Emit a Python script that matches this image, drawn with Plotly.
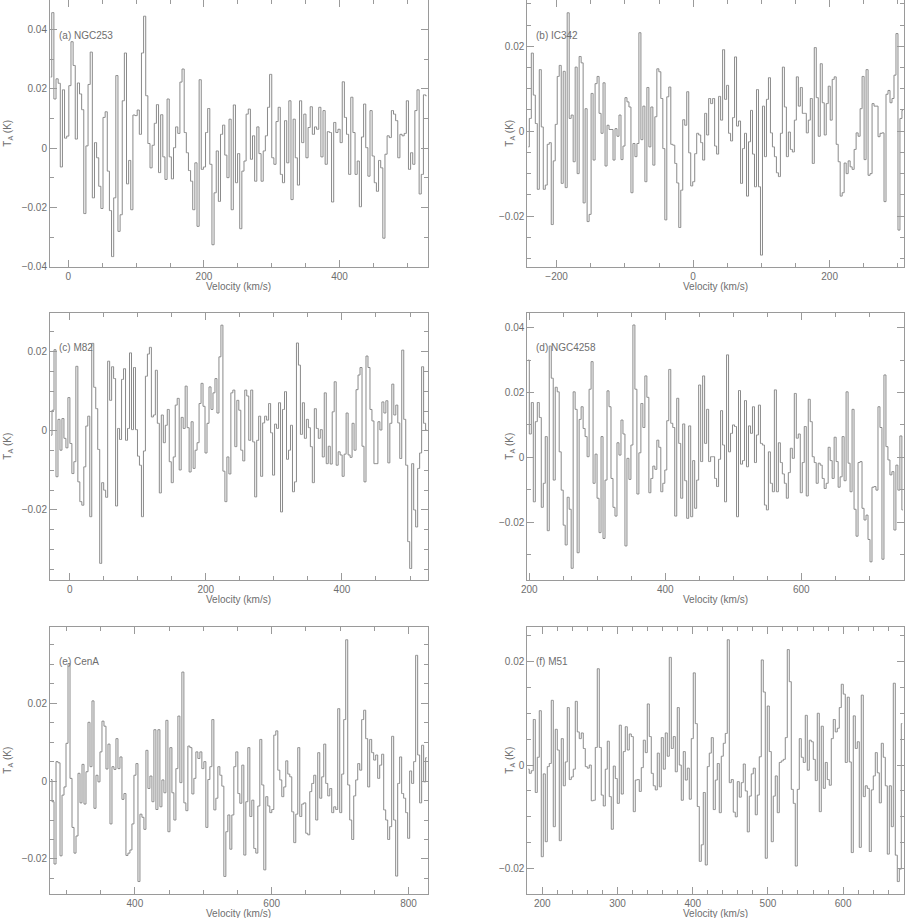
import numpy as np
import plotly.graph_objects as go

# Antenna temperature T_A (K) per channel
ngc253 = [
    0.024, 0.0457, 0.0166, 0.0234, 0.0219, -0.0063, 0.0197, 0.0034, 0.0041, 0.0211,
    0.0359, 0.0279, 0.0031, 0.022, 0.0183, 0.013, -0.022, 0.0008, 0.0215, 0.0324,
    -0.0167, 0.0019, -0.0032, -0.0128, -0.0203, 0.0104, 0.0123, -0.0077, -0.021, -0.0365,
    -0.0167, 0.0245, -0.028, -0.0224, 0.016, 0.0321, -0.012, -0.0041, -0.0207, 0.0112,
    0.011, 0.0129, 0.0047, 0.0321, 0.0445, 0.0177, 0.0016, -0.0066, 0.001, 0.0084,
    0.0147, -0.0082, 0.0113, -0.0029, -0.0105, 0.0166, -0.0029, -0.0103, 0.0002, 0.0072,
    0.005, 0.0223, 0.0267, 0.0053, -0.0015, -0.0075, -0.0111, -0.0207, -0.0049, -0.0263,
    0.0231, -0.0071, -0.0063, 0.0053, 0.0134, -0.0054, -0.0325, -0.015, -0.0009, -0.0179,
    0.0047, 0.0078, -0.0023, -0.0099, 0.0098, -0.0207, 0.0146, -0.0116, -0.0018, -0.0271,
    -0.0077, -0.0043, 0.0115, 0.0132, -0.0037, 0.0042, -0.0111, 0.0072, -0.0018, -0.0111,
    -0.0009, 0.0042, 0.0138, 0.0249, -0.0032, -0.0054, 0.009, 0.0138, -0.0088, -0.0116,
    0.0093, -0.0049, 0.016, -0.0173, 0.0098, -0.0032, -0.0124, 0.016, 0.0019, 0.0115,
    -0.0032, 0.007, 0.014, 0.0047, 0.0072, 0.0064, 0.0138, -0.0029, 0.0127, -0.0054,
    0.0056, 0.0053, -0.0181, 0.0087, 0.0053, 0.0064, 0.0019, 0.0224, 0.0104, 0.0047,
    -0.0088, 0.0172, 0.0053, -0.0088, -0.0043, -0.0197, 0.0038, 0.0149, 0.0002, -0.0094,
    0.0127, -0.0026, -0.0116, -0.0145, -0.0041, -0.0066, -0.0303, -0.002, 0.0042, 0.0036,
    0.0127, 0.0115, 0.0093, -0.0032, 0.0047, 0.0042, 0.005, 0.016, -0.0071, -0.0015,
    -0.0054, 0.0127, 0.0197, -0.0154, -0.0088, 0.018, 0.0177,
]
ic342 = [
    -0.0037, 0.003, 0.0184, 0.0085, 0.0018, -0.0137, 0.0145, 0.001, -0.0137, -0.0127,
    -0.0031, -0.0027, -0.022, -0.007, 0.0016, 0.0129, 0.0155, -0.0123, 0.0141, -0.0133,
    0.0279, 0.003, 0.0038, -0.0072, 0.0151, -0.01, 0.0176, 0.0161, -0.0169, 0.0053,
    -0.0213, -0.0196, 0.0089, -0.0068, 0.0112, 0.0129, 0.0042, -0.0005, 0.0114, -0.0082,
    0.0014, 0.0004, 0.0004, -0.0068, 0.0006, -0.0012, 0.0038, -0.0067, -0.0035, 0.0079,
    0.0069, 0.0057, -0.0145, -0.0029, -0.006, -0.0029, 0.0232, -0.002, 0.0059, -0.0119,
    0.0103, -0.0037, 0.0057, -0.008, 0.0034, 0.0147, 0.014, 0.0077, -0.0041, -0.0209,
    0.0081, 0.0104, -0.0031, -0.0033, -0.0076, -0.0122, -0.0227, -0.0139, 0.0027, 0.0014,
    0.0093, -0.0051, -0.0129, -0.0119, -0.0053, -0.0005, -0.0009, -0.0027, -0.0068, 0.0042,
    -0.0009, 0.0077, 0.0065, 0.0077, -0.0035, -0.0054, 0.0082, 0.0026, 0.0192, 0.0075,
    0.0108, -0.0005, -0.0023, 0.0032, 0.0175, 0.0012, 0.0024, -0.0123, -0.0041, -0.0005,
    -0.0153, -0.0025, 0.0049, -0.0054, -0.0131, 0.0098, -0.0131, -0.0292, 0.0059, -0.006,
    0.0075, 0.0126, -0.0004, -0.0037, -0.006, -0.0098, -0.0107, -0.0005, 0.0151, 0.0057,
    -0.006, -0.0002, -0.0043, -0.0049, 0.0026, 0.0128, 0.0059, 0.0103, 0.0042, 0.0042,
    -0.0004, 0.0026, 0.0077, -0.0076, 0.0197, 0.0079, -0.0012, 0.0159, 0.0067, -0.0009,
    0.0065, 0.0106, 0.0026, 0.0122, 0.0128, -0.0031, -0.0072, -0.0153, -0.0145, -0.0075,
    -0.01, -0.007, -0.0084, -0.009, -0.0043, -0.0004, -0.0012, 0.0053, 0.0129, -0.0067,
    0.0145, -0.0104, -0.01, 0.0065, 0.0059, 0.0059, -0.0013, -0.0005, -0.0004, -0.0166,
    0.0087, 0.0096, 0.0067, 0.0077, 0.0132, 0.023, -0.0233, 0.003, 0.0049,
]
m82 = [
    -0.0011, 0.0052, 0.0205, -0.0116, 0.0029, -0.0049, 0.0031, -0.0019, -0.0043, 0.0084,
    -0.0032, -0.0108, -0.0078, 0.0163, -0.0129, -0.0179, -0.0188, -0.0091, 0.0012, 0.0037,
    -0.0217, 0.0221, 0.011, 0.0056, -0.0047, -0.0335, -0.0131, -0.015, -0.0168, 0.0176,
    0.0077, 0.0162, 0.0132, -0.019, 0.0006, -0.0022, 0.013, 0.0157, -0.0024, 0.0006,
    0.0197, 0.0003, 0.016, 0.0003, -0.0064, -0.0087, -0.0217, -0.0051, 0.0138, 0.0194,
    0.0211, 0.0035, 0.004, 0.0153, 0.0019, -0.0157, 0.004, -0.003, 0.0014, 0.0054,
    -0.0078, -0.0131, -0.0066, 0.0065, 0.0082, -0.0099, 0.0034, 0.0006, 0.0113, 0.0008,
    -0.0104, 0.0023, -0.0095, -0.0049, -0.003, 0.0069, 0.012, 0.0062, -0.0056, 0.0019,
    0.0111, 0.0054, 0.0096, 0.0132, 0.0045, 0.0187, 0.0267, -0.0102, -0.0179, -0.0066,
    -0.0109, 0.0096, 0.0103, -0.004, 0.0077, 0.0052, -0.0049, -0.0076, 0.0103, 0.0088,
    -0.0024, 0.0103, -0.0028, -0.0167, -0.0024, 0.0037, -0.0115, 0.002, 0.0037, 0.0027,
    0.0069, -0.0005, -0.0112, 0.0017, 0.0006, 0.0071, -0.0205, 0.0054, 0.0099, -0.0072,
    -0.0049, 0.0014, -0.0154, -0.0129, 0.0222, 0.0166, -0.0009, 0.0071, -0.0019, 0.0029,
    0.0008, -0.004, -0.0131, 0.0056, 0.0006, -0.0019, 0.0003, -0.0066, 0.0096, -0.0083,
    -0.0039, -0.0084, 0.0048, 0.0124, -0.0087, -0.0053, -0.0061, -0.0115, -0.0059, 0.0045,
    -0.0061, -0.0067, 0.0019, -0.0049, 0.0104, 0.0141, 0.016, -0.0039, -0.0129, 0.0189,
    0.016, 0.0054, 0.0025, -0.0083, -0.0083, 0.0023, 0.0002, 0.0073, 0.0045, 0.0076,
    -0.0081, 0.0019, 0.0118, 0.004, 0.0065, 0.002, -0.007, 0.0204, 0.0029, -0.0087,
    -0.028, -0.0348, -0.0083, -0.02, -0.0243, -0.0095, -0.0056, 0.0162, 0.0019, 0.0002,
]
ngc4258 = [
    0.03, 0.0072, 0.0169, -0.0137, 0.011, 0.0169, 0.0123, -0.0154, -0.008, 0.0064,
    -0.0226, 0.0343, 0.0244, -0.007, 0.0216, 0.0202, 0.0017, -0.0101, -0.0209, -0.027,
    -0.0123, -0.016, -0.0342, 0.0202, 0.0148, -0.0294, 0.0117, 0.0156, 0.0089, 0.0064,
    0.0002, 0.021, 0.0295, -0.008, 0.001, -0.0126, -0.0232, 0.0064, -0.025, -0.007,
    0.0205, 0.0156, -0.0065, -0.0154, -0.0181, 0.0045, 0.0007, 0.0115, 0.0072, -0.0273,
    -0.0003, -0.0068, 0.0038, 0.0408, 0.021, -0.0113, 0.0014, 0.0166, 0.0092, 0.0251,
    0.0185, -0.0109, -0.0065, -0.0027, -0.0037, 0.0053, 0.0031, -0.0106, -0.008, -0.0039,
    0.0113, 0.0271, 0.0105, 0.0092, -0.0181, 0.0182, 0.0043, -0.0126, 0.0103, -0.0072,
    -0.0188, 0.0097, -0.0183, -0.001, -0.0157, -0.007, 0.0223, -0.0013, 0.0251, 0.0043,
    0.0148, -0.0013, 0.0002, 0.0002, -0.0065, -0.009, -0.0006, 0.0144, 0.0038, -0.0137,
    0.0316, 0.0017, 0.0074, 0.01, 0.0095, -0.0183, 0.0206, -0.0021, -0.001, 0.0175,
    -0.0029, 0.0097, 0.0074, 0.0156, -0.0016, 0.0069, 0.0161, 0.0043, 0.0038, -0.0147,
    -0.0162, 0.0017, -0.008, -0.0106, 0.0208, -0.0106, 0.0045, -0.0016, -0.0051, -0.008,
    -0.0126, -0.0047, 0.0028, -0.0003, 0.0197, 0.0059, 0.0072, -0.0109, -0.0016, 0.0095,
    -0.0119, 0.0179, 0.011, 0.0002, -0.0016, -0.008, -0.0018, -0.0024, -0.0065, -0.0096,
    -0.008, 0.0031, -0.001, -0.0065, 0.0062, -0.0013, -0.0092, -0.006, 0.0064, -0.0072,
    0.0202, -0.0018, -0.0106, 0.0148, -0.016, -0.0243, -0.0016, -0.0013, -0.0157, -0.0193,
    -0.0178, -0.0253, -0.0322, -0.0092, -0.009, -0.0101, 0.0156, 0.0092, -0.0314, 0.0254,
    0.0033, -0.0008, -0.0054, -0.0044, -0.0224, -0.0024, -0.0101, 0.0066, -0.0162,
]
cena = [
    0.0004, -0.0053, -0.0213, 0.005, 0.0047, -0.0192, -0.0036, -0.0015, 0.0097, 0.0302,
    0.0007, -0.0119, -0.0185, -0.0141, 0.002, -0.0056, 0.0043, -0.0059, 0.0024, 0.0151,
    0.0037, 0.0206, -0.007, 0.0015, -0.0002, 0.0075, 0.0154, 0.0141, 0.0031, 0.0095,
    -0.011, 0.0037, 0.003, 0.0109, 0.0032, 0.0062, -0.0047, -0.0032, -0.0191, -0.0185,
    -0.0177, -0.011, 0.0015, 0.0045, -0.0258, -0.0085, -0.0093, -0.0124, 0.0079, -0.0019,
    0.0013, -0.0053, 0.0132, -0.0073, 0.0132, -0.0066, 0.0003, -0.003, 0.0156, -0.013,
    0.0086, -0.003, -0.01, 0.0032, 0.0167, -0.0004, 0.028, -0.0056, -0.0076, 0.009,
    0.0086, -0.0033, 0.0007, 0.0075, 0.0058, 0.0075, 0.0032, 0.005, -0.0119, 0.0004,
    0.0037, 0.0158, -0.0074, -0.0044, 0.0037, 0.0015, -0.0013, -0.0245, -0.013, -0.0087,
    -0.0175, -0.0087, 0.0037, 0.0075, -0.0032, -0.0057, 0.0041, -0.019, -0.0053, 0.0086,
    -0.0091, -0.0049, -0.0173, -0.0185, -0.0064, 0.0107, -0.001, -0.0228, -0.004, -0.0064,
    -0.0081, -0.0073, 0.0118, 0.0129, 0.0028, 0.0003, -0.004, -0.0015, 0.0052, 0.0018,
    0.0011, -0.0079, -0.0158, -0.0085, 0.0086, -0.0091, -0.0059, -0.0056, -0.0134, -0.0138,
    -0.0027, -0.0006, 0.0015, -0.01, 0.0073, -0.0044, 0.0011, 0.0095, -0.0006, -0.0038,
    -0.0019, -0.0081, -0.0066, -0.0073, 0.0186, -0.0081, 0.0018, 0.0158, 0.0363, -0.001,
    -0.01, -0.015, -0.0038, 0.0003, 0.0045, 0.0028, 0.0158, 0.0182, 0.0109, -0.0015,
    0.0107, 0.0073, 0.0054, 0.0067, 0.0007, 0.0041, 0.0069, -0.0074, -0.01, -0.015,
    -0.0117, 0.0115, -0.01, -0.0244, -0.0006, 0.0062, -0.0032, -0.0044, -0.0081, -0.0147,
    0.0026, -0.0006, 0.005, 0.0323, 0.0067, -0.0056, 0.0092, -0.0002, 0.006,
]
m51 = [
    -0.0008, -0.0016, -0.0011, 0.0088, -0.0053, 0.0015, 0.0105, -0.0177, -0.0017, -0.0148,
    -0.0003, 0.0003, 0.0125, -0.0119, 0.0069, 0.0029, -0.0146, 0.0051, -0.004, 0.0006,
    0.0111, -0.0028, -0.0023, -0.0008, 0.0123, 0.0064, 0.0051, 0.0062, 0.0032, -0.0003,
    -0.0006, 0.0, -0.0069, -0.0068, 0.0034, 0.0186, 0.0034, -0.0058, -0.0079, -0.0008,
    0.0046, -0.0061, -0.0124, -0.0002, -0.0026, -0.0074, 0.0077, -0.0056, 0.0026, 0.0074,
    0.0029, 0.006, 0.0055, -0.009, -0.0029, -0.0028, -0.0051, -0.0005, 0.0048, 0.0024,
    0.0118, 0.0055, -0.0016, -0.004, -0.0048, 0.0023, -0.0042, 0.0053, -0.0008, 0.0062,
    0.0017, 0.0208, 0.0032, 0.0055, -0.0013, 0.0111, 0.0, -0.0068, 0.0026, -0.0029,
    -0.0006, -0.0066, 0.0051, 0.0178, 0.008, -0.008, -0.0186, -0.0154, -0.0053, -0.0193,
    -0.0003, 0.0023, 0.0053, -0.0086, -0.0029, 0.0003, -0.0092, 0.0017, 0.0042, 0.0061,
    0.0242, -0.0034, -0.0028, -0.0091, -0.01, -0.0032, -0.0062, -0.0034, 0.0002, -0.005,
    -0.0129, -0.006, -0.0017, -0.0006, -0.0096, -0.0058, 0.0016, 0.0203, 0.0141, -0.018,
    0.0114, 0.0026, -0.0148, -0.006, -0.0021, -0.0092, 0.0005, 0.0008, 0.0011, 0.0053,
    0.0223, 0.0161, -0.0047, -0.0074, -0.0195, -0.0047, 0.0051, 0.0015, 0.0005, 0.0096,
    -0.001, 0.0048, 0.0045, 0.0011, -0.003, 0.01, -0.009, 0.0075, -0.0045, 0.0005,
    -0.0028, -0.0039, 0.0051, 0.0088, 0.0064, 0.0071, 0.0111, 0.0156, 0.0137, 0.0005,
    0.0131, 0.0006, -0.0169, 0.0095, 0.0032, 0.0045, -0.0159, 0.0135, -0.0061, -0.004,
    -0.0045, -0.0167, -0.0048, -0.0021, 0.0024, -0.0015, -0.0073, 0.0042, 0.0015, -0.004,
    -0.0172, -0.004, -0.0119, 0.0158, -0.0174, -0.0225, -0.0201, 0.008,
]

labels = ["(a) NGC253", "(b) IC342", "(c) M82", "(d) NGC4258", "(e) CenA", "(f) M51"]
spectra = [ngc253, ic342, m82, ngc4258, cena, m51]
# first channel velocity and channel width (km/s)
v_first = [-26.0, -241.5, -27.5, 198.5, 277.5, 181.3]
v_width = [3.15, 2.92, 2.92, 2.93, 2.92, 2.66]
x_ranges = [[-27, 530], [-243, 309], [-29, 526], [197, 751], [276, 828], [180, 681]]
y_ranges = [[-0.04, 0.0498], [-0.032, 0.0308], [-0.0377, 0.0297],
            [-0.0378, 0.0444], [-0.029, 0.0395], [-0.0249, 0.0266]]
x_major = [200, 200, 200, 200, 200, 100]
x_minor = [50, 50, 50, 50, 50, 20]
y_major = [0.02, 0.02, 0.02, 0.02, 0.02, 0.02]
y_minor = [0.01, 0.005, 0.005, 0.01, 0.005, 0.005]

W, H = 905, 918
x_dom = [[50 / W, 427.7 / W], [527.3 / W, 904 / W]]
y_dom = [[1 - 267 / H, 0.9995], [1 - 580 / H, 1 - 313.3 / H], [1 - 894 / H, 1 - 627.3 / H]]

LINE = "#8a8a8a"
FRAME = "#9a9a9a"
TEXT = "#6e6e6e"
FONT = "Liberation Sans, Arial, sans-serif"

fig = go.Figure()
layout = {}
annotations = []

for i, (name, vals) in enumerate(zip(labels, spectra)):
    row, col = divmod(i, 2)
    n = i + 1
    xa = "x" if n == 1 else f"x{n}"
    ya = "y" if n == 1 else f"y{n}"
    vel = v_first[i] + v_width[i] * np.arange(len(vals))

    fig.add_trace(go.Scatter(
        x=vel, y=vals, xaxis=xa, yaxis=ya,
        mode="lines", line=dict(color=LINE, width=1, shape="hvh"),
        showlegend=False, hoverinfo="skip",
    ))

    axis_common = dict(
        showline=True, mirror="ticks", linecolor=FRAME, linewidth=1,
        ticks="inside", ticklen=7, tickcolor=FRAME, tickwidth=1,
        showgrid=False, zeroline=False, automargin=False,
        tickfont=dict(family=FONT, size=10, color=TEXT),
    )
    layout["xaxis" if n == 1 else f"xaxis{n}"] = dict(
        axis_common, domain=x_dom[col], anchor=ya, range=x_ranges[i],
        dtick=x_major[i], tick0=0,
        minor=dict(ticks="inside", ticklen=4, tickcolor=FRAME, dtick=x_minor[i], tick0=0),
    )
    layout["yaxis" if n == 1 else f"yaxis{n}"] = dict(
        axis_common, domain=y_dom[row], anchor=xa, range=y_ranges[i],
        dtick=y_major[i], tick0=0,
        minor=dict(ticks="inside", ticklen=4, tickcolor=FRAME, dtick=y_minor[i], tick0=0),
    )

    annotations.append(dict(
        text=name, xref=f"{xa} domain", yref=f"{ya} domain",
        x=0.018, y=0.87, xanchor="left", yanchor="middle", showarrow=False,
        font=dict(family=FONT, size=10, color=TEXT),
    ))
    annotations.append(dict(
        text="T<sub>A</sub> (K)", xref="paper", yref=f"{ya} domain",
        x=(8 if col == 0 else 510) / W, y=0.5, xanchor="center", yanchor="middle",
        textangle=-90, showarrow=False,
        font=dict(family=FONT, size=10, color=TEXT),
    ))
    # axis title kept just under the tick labels, as in the original
    annotations.append(dict(
        text="Velocity (km/s)", xref=f"{xa} domain", yref=f"{ya} domain",
        x=0.5, y=0, yshift=-19, xanchor="center", yanchor="middle", showarrow=False,
        font=dict(family=FONT, size=10, color=TEXT),
    ))

fig.update_layout(
    **layout,
    annotations=annotations,
    width=W, height=H,
    margin=dict(l=0, r=0, t=0, b=0),
    plot_bgcolor="white",
    paper_bgcolor="white",
)

fig.write_html(
    "out.html",
    config={"displayModeBar": False},
    post_script="document.body.style.margin='0';",
)
